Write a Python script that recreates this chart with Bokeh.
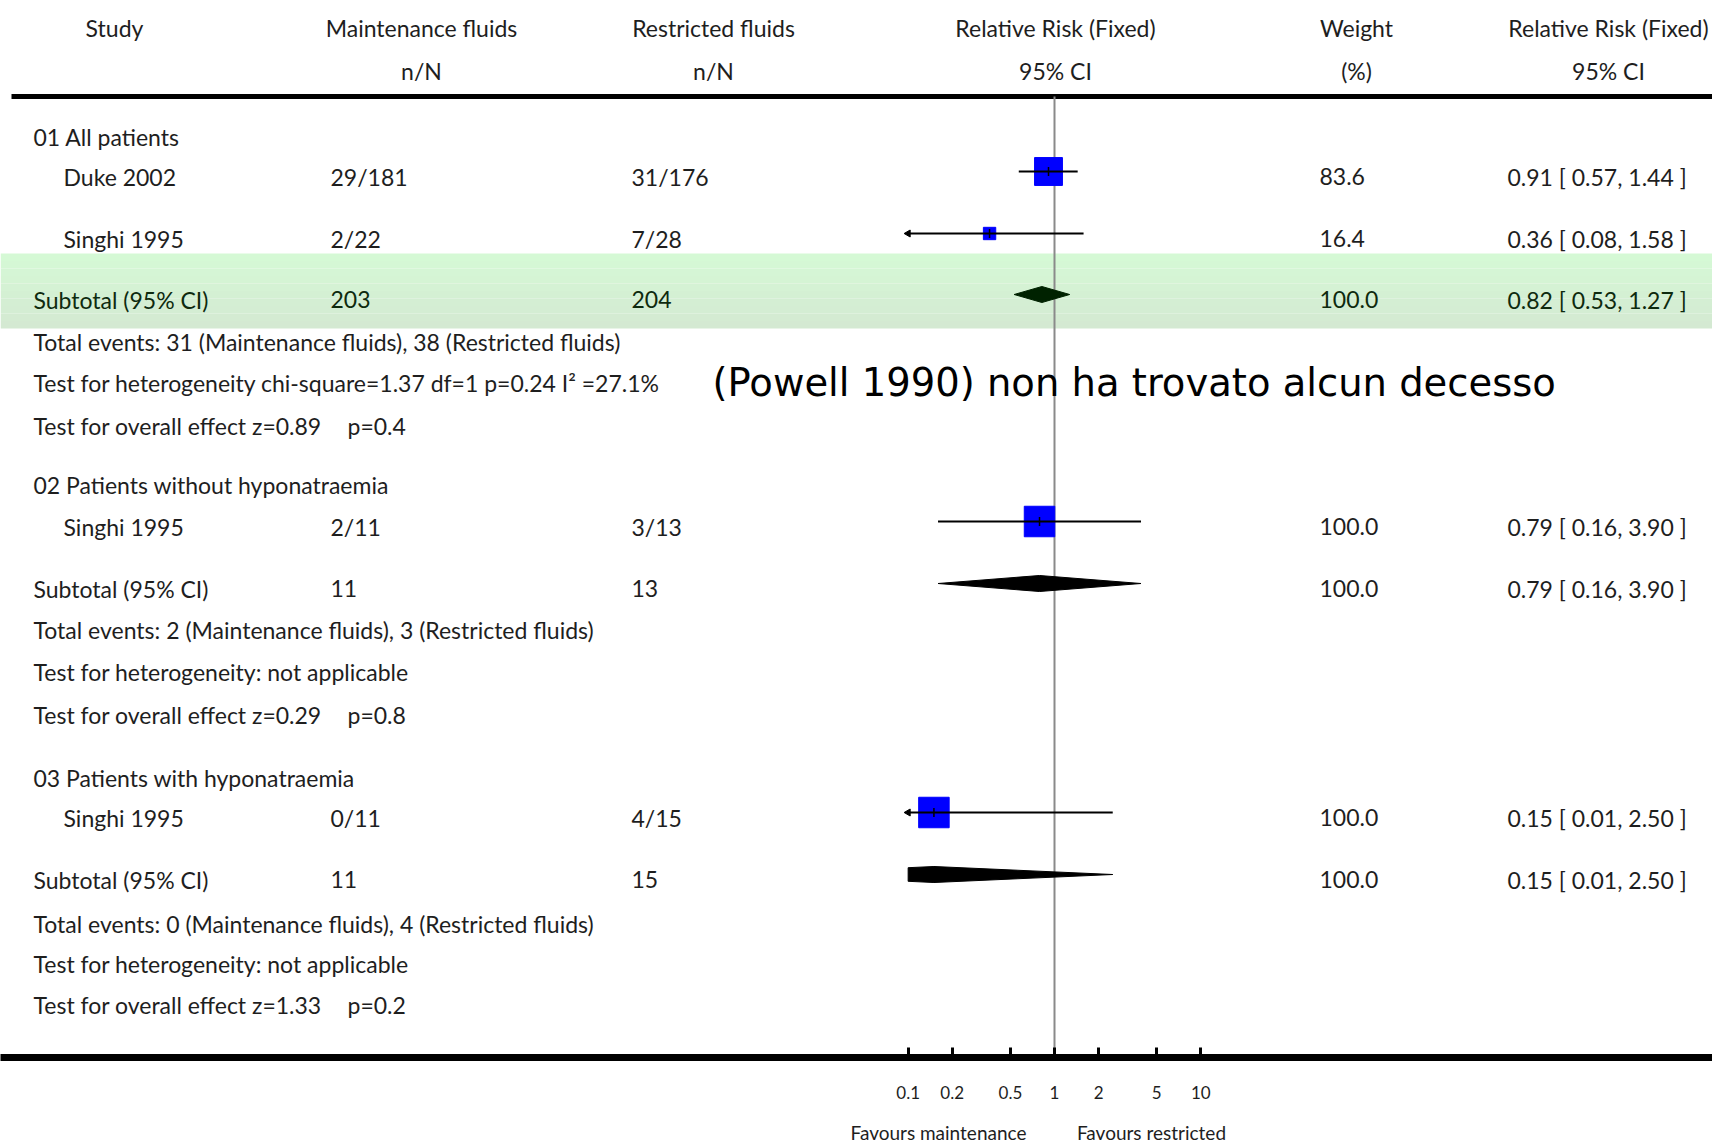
import numpy as np
from bokeh.plotting import figure
from bokeh.models import Range1d, LogScale, LogAxis, LinearAxis, FixedTicker
from bokeh.core.properties import value
from bokeh.embed import file_html
from bokeh.resources import INLINE

# ---------------- data ----------------
headers_1 = ["Study", "Maintenance fluids", "Restricted fluids", "Relative Risk (Fixed)", "Weight", "Relative Risk (Fixed)"]
headers_2 = ["", "n/N", "n/N", "95% CI", "(%)", "95% CI"]

group_titles = ["01 All patients", "02 Patients without hyponatraemia", "03 Patients with hyponatraemia"]

study_names = ["Duke 2002", "Singhi 1995", "Singhi 1995", "Singhi 1995"]
study_maint = ["29/181", "2/22", "2/11", "0/11"]
study_restr = ["31/176", "7/28", "3/13", "4/15"]
study_rr = [0.91, 0.36, 0.79, 0.15]
study_lo = [0.57, 0.08, 0.16, 0.01]
study_hi = [1.44, 1.58, 3.90, 2.50]
study_weight = [83.6, 16.4, 100.0, 100.0]

sub_maint = [203, 11, 11]
sub_restr = [204, 13, 15]
sub_rr = [0.82, 0.79, 0.15]
sub_lo = [0.53, 0.16, 0.01]
sub_hi = [1.27, 3.90, 2.50]
sub_weight = [100.0, 100.0, 100.0]

events_maint = [31, 2, 0]
events_restr = [38, 3, 4]
heterogeneity = ["Test for heterogeneity chi-square=1.37 df=1 p=0.24 I\u00b2 =27.1%",
                 "Test for heterogeneity: not applicable",
                 "Test for heterogeneity: not applicable"]
overall_z = [0.89, 0.29, 1.33]
overall_p = [0.4, 0.8, 0.2]

tick_vals = [0.1, 0.2, 0.5, 1, 2, 5, 10]
tick_labels = ["0.1", "0.2", "0.5", "1", "2", "5", "10"]
favours = ["Favours maintenance", "Favours restricted"]
note = "(Powell 1990) non ha trovato alcun decesso"

# ---------------- layout (reference pixel coordinates) ----------------
W, H = 1712, 1147
X_LEFT, X_RIGHT = 0, 1712
Y_TOP, Y_AXIS = 0, 1057
X_ONE, PX_DEC = 1054.0, 146.35
header_x = [114, 421, 713, 1055, 1356, 1608]
header_y = [27, 70]
COL_GROUP, COL_STUDY, COL_MAINT, COL_RESTR, COL_W, COL_RR, COL_P = 33, 63, 330, 631, 1319, 1507, 347
group_y = [136, 484, 777]
study_y = [176, 238, 526, 817]
sub_y = [299, 588, 879]
events_y = [341, 629, 923]
het_y = [382, 671, 963]
overall_y = [425, 714, 1004]
favours_x = [938, 1151]
MARK_DY = -5
CLIP_LO, CLIP_HI = 0.1, 10.0

FONT = value("Lato")
FS = "23px"
TXT = "#1e1e1e"
SUBTXT_GREEN = "#0e2a0e"

rr_start = 10 ** ((X_LEFT - X_ONE) / PX_DEC)
rr_end = 10 ** ((X_RIGHT - X_ONE) / PX_DEC)

p = figure(width=W, height=H, x_range=Range1d(X_LEFT, X_RIGHT), y_range=Range1d(Y_AXIS, Y_TOP),
           output_backend="svg", toolbar_location=None,
           x_axis_location=None, y_axis_location=None,
           min_border_left=0, min_border_right=0, min_border_top=0, min_border_bottom=H - (Y_AXIS - Y_TOP))
p.extra_x_ranges = {"rr": Range1d(rr_start, rr_end)}
p.extra_x_scales = {"rr": LogScale()}
p.outline_line_color = None
p.grid.grid_line_color = None
p.background_fill_color = "white"
p.border_fill_color = "white"

# green band (gradient strips) behind subtotal of group 1
band_top, band_bot = 253, 328
n_strips = 10
edges = np.linspace(band_top, band_bot, n_strips + 1)
c_top = np.array([214, 250, 214])
c_bot = np.array([212, 233, 210])
cols = []
for i in range(n_strips):
    t = (i + 0.5) / n_strips
    c = (c_top * (1 - t) + c_bot * t).astype(int)
    cols.append("#%02x%02x%02x" % tuple(c))
p.quad(left=[0] * n_strips, right=[1712] * n_strips, top=edges[:-1], bottom=edges[1:],
       fill_color=cols, line_color=None, level="underlay")

# top thick rule
p.segment(x0=[11], x1=[1712], y0=[96], y1=[96], line_color="black", line_width=5)

# vertical line of no effect
p.segment(x0=[1], x1=[1], y0=[96], y1=[Y_AXIS], x_range_name="rr", line_color="#8a8a8a", line_width=2)

# headers
p.text(x=header_x, y=[header_y[0]] * 6, text=headers_1, text_font=FONT, text_font_size=FS,
       text_align="center", text_baseline="middle", text_color=TXT)
p.text(x=header_x, y=[header_y[1]] * 6, text=headers_2, text_font=FONT, text_font_size=FS,
       text_align="center", text_baseline="middle", text_color=TXT)

# group titles
p.text(x=[COL_GROUP] * 3, y=group_y, text=group_titles, text_font=FONT, text_font_size=FS,
       text_baseline="middle", text_color=TXT)


def fmt_ci(r, l, h):
    return "%.2f [ %.2f, %.2f ]" % (r, l, h)


# study rows
p.text(x=[COL_STUDY] * 4, y=study_y, text=study_names, text_font=FONT, text_font_size=FS,
       text_baseline="middle", text_color=TXT)
p.text(x=[COL_MAINT] * 4, y=study_y, text=study_maint, text_font=FONT, text_font_size=FS,
       text_baseline="middle", text_color=TXT)
p.text(x=[COL_RESTR] * 4, y=study_y, text=study_restr, text_font=FONT, text_font_size=FS,
       text_baseline="middle", text_color=TXT)
p.text(x=[COL_W] * 4, y=study_y, text=["%.1f" % w for w in study_weight], text_font=FONT,
       text_font_size=FS, text_baseline="middle", text_color=TXT)
p.text(x=[COL_RR] * 4, y=study_y, text=[fmt_ci(r, l, h) for r, l, h in zip(study_rr, study_lo, study_hi)],
       text_font=FONT, text_font_size=FS, text_baseline="middle", text_color=TXT)

# subtotal rows
sub_cols = [SUBTXT_GREEN, TXT, TXT]
p.text(x=[COL_GROUP] * 3, y=sub_y, text=["Subtotal (95% CI)"] * 3, text_font=FONT, text_font_size=FS,
       text_baseline="middle", text_color=sub_cols)
p.text(x=[COL_MAINT] * 3, y=sub_y, text=[str(v) for v in sub_maint], text_font=FONT, text_font_size=FS,
       text_baseline="middle", text_color=sub_cols)
p.text(x=[COL_RESTR] * 3, y=sub_y, text=[str(v) for v in sub_restr], text_font=FONT, text_font_size=FS,
       text_baseline="middle", text_color=sub_cols)
p.text(x=[COL_W] * 3, y=sub_y, text=["%.1f" % w for w in sub_weight], text_font=FONT, text_font_size=FS,
       text_baseline="middle", text_color=sub_cols)
p.text(x=[COL_RR] * 3, y=sub_y, text=[fmt_ci(r, l, h) for r, l, h in zip(sub_rr, sub_lo, sub_hi)],
       text_font=FONT, text_font_size=FS, text_baseline="middle", text_color=sub_cols)

# summary statistics lines
p.text(x=[COL_GROUP] * 3, y=events_y,
       text=["Total events: %d (Maintenance fluids), %d (Restricted fluids)" % (a, b)
             for a, b in zip(events_maint, events_restr)],
       text_font=FONT, text_font_size=FS, text_baseline="middle", text_color=TXT)
p.text(x=[COL_GROUP] * 3, y=het_y, text=heterogeneity, text_font=FONT, text_font_size=FS,
       text_baseline="middle", text_color=TXT)
p.text(x=[COL_GROUP] * 3, y=overall_y, text=["Test for overall effect z=%.2f" % z for z in overall_z],
       text_font=FONT, text_font_size=FS, text_baseline="middle", text_color=TXT)
p.text(x=[COL_P] * 3, y=overall_y, text=["p=%.1f" % v for v in overall_p],
       text_font=FONT, text_font_size=FS, text_baseline="middle", text_color=TXT)

# note
p.text(x=[712], y=[382], text=[note], text_font=value("DejaVu Sans"), text_font_size="38.5px",
       text_baseline="middle", text_color="black")

# ---------------- forest marks ----------------
my = [y + MARK_DY for y in study_y]
ci_lo = [max(v, CLIP_LO) for v in study_lo]
ci_hi = [min(v, CLIP_HI) for v in study_hi]
sizes = [3.05 * np.sqrt(w) for w in study_weight]
p.scatter(x=study_rr, y=my, size=sizes, marker="square", fill_color="#0000ff", line_color="#0000ff",
          x_range_name="rr")
p.segment(x0=ci_lo, x1=ci_hi, y0=my, y1=my, line_color="black", line_width=2, x_range_name="rr")
p.scatter(x=study_rr, y=my, size=9, marker="dash", angle=np.pi / 2, line_color="black", line_width=1.5,
          x_range_name="rr")
arr_x = [CLIP_LO for v in study_lo if v < CLIP_LO]
arr_y = [y for v, y in zip(study_lo, my) if v < CLIP_LO]
p.scatter(x=arr_x, y=arr_y, size=7, marker="triangle", angle=np.pi / 2, fill_color="black",
          line_color="black", x_range_name="rr")


def diamond(lo, mid, hi, y, h):
    L, M, R = np.log10(lo), np.log10(mid), np.log10(hi)
    cl, ch = np.log10(CLIP_LO), np.log10(CLIP_HI)
    xs, ys = [], []
    if L < cl:
        hh = h / 2 * (cl - L) / (M - L)
        xs += [CLIP_LO, CLIP_LO]
        ys += [y + hh, y - hh]
    else:
        xs.append(lo)
        ys.append(y)
    xs.append(mid)
    ys.append(y - h / 2)
    if R > ch:
        hh = h / 2 * (R - ch) / (R - M)
        xs += [CLIP_HI, CLIP_HI]
        ys += [y - hh, y + hh]
    else:
        xs.append(hi)
        ys.append(y)
    xs.append(mid)
    ys.append(y + h / 2)
    return xs, ys


dxs, dys = [], []
for lo, mid, hi, y in zip(sub_lo, sub_rr, sub_hi, sub_y):
    xs, ys = diamond(lo, mid, hi, y + MARK_DY, 16)
    dxs.append(xs)
    dys.append(ys)
p.patches(xs=dxs, ys=dys, fill_color=["#002200", "black", "black"], line_color=["#002200", "black", "black"],
          line_width=1, x_range_name="rr")

# ---------------- axes ----------------
ax = LogAxis(x_range_name="rr", ticker=FixedTicker(ticks=tick_vals))
ax.major_label_overrides = {v: s for v, s in zip(tick_vals, tick_labels)}
ax.axis_line_width = 7
ax.axis_line_color = "black"
ax.major_tick_in = 10
ax.major_tick_out = 0
ax.major_tick_line_width = 3
ax.minor_tick_in = 0
ax.minor_tick_out = 0
ax.major_label_standoff = 28
ax.major_label_text_font = "Lato"
ax.major_label_text_font_size = "17px"
ax.major_label_text_color = TXT
p.add_layout(ax, "below")

ax2 = LinearAxis(ticker=FixedTicker(ticks=favours_x))
ax2.major_label_overrides = {v: s for v, s in zip(favours_x, favours)}
ax2.axis_line_color = None
ax2.major_tick_line_color = None
ax2.minor_tick_line_color = None
ax2.major_tick_in = 0
ax2.major_tick_out = 0
ax2.major_label_standoff = 19
ax2.major_label_text_font = "Lato"
ax2.major_label_text_font_size = "19px"
ax2.major_label_text_color = TXT
p.add_layout(ax2, "below")

open("out.html", "w").write(file_html(p, INLINE))
